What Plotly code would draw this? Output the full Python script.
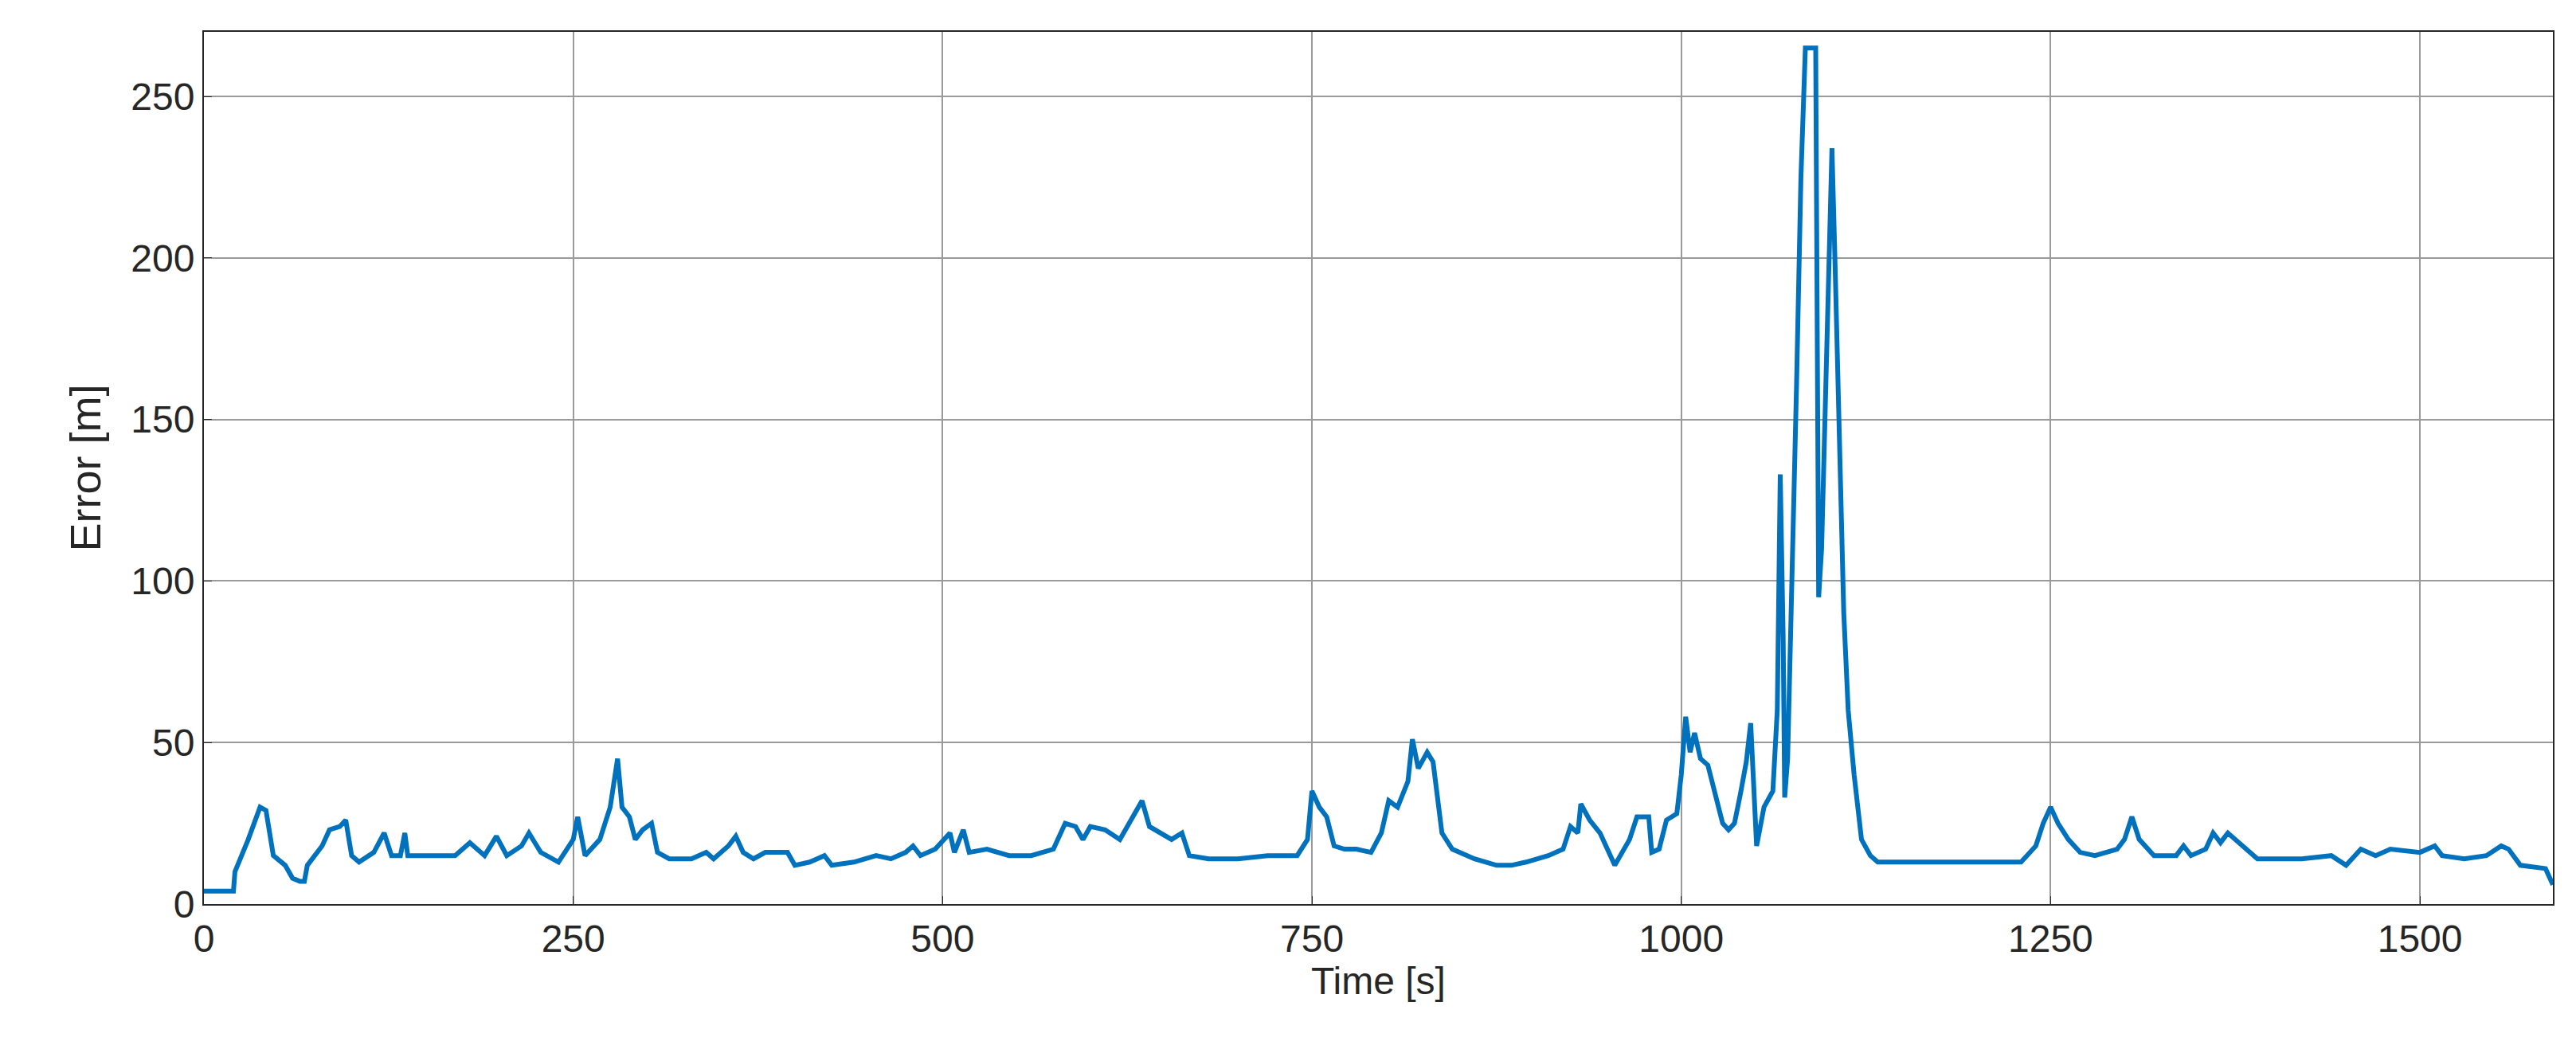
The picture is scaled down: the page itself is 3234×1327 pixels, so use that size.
import plotly.graph_objects as go

# time [s] and error [m]
time_s = [0, 20, 21, 30, 38, 42, 47, 55, 60, 65, 68, 70, 80, 85, 92, 96, 100, 105, 115, 122, 127,
          133, 136, 138, 150, 170, 180, 190, 198, 205, 215, 220, 228, 240, 250, 253, 258, 268, 275,
          280, 283, 288, 292, 297, 303, 307, 315, 330, 340, 345, 355, 360, 365, 372, 380, 395, 400,
          410, 420, 425, 440, 455, 465, 475, 480, 485, 495, 505, 508, 514, 518, 530, 545, 560, 575,
          583, 590, 595, 600, 610, 620, 630, 635, 640, 648, 655, 662, 667, 680, 700, 720, 740, 747,
          750, 755, 760, 765, 772, 780, 790, 797, 802, 808, 815, 818, 822, 828, 832, 838, 845, 860,
          875, 885, 895, 910, 920, 925, 930, 932, 938, 945, 952, 955, 965, 970, 978, 980, 985, 990,
          997, 1000, 1003, 1006, 1009, 1013, 1018, 1023, 1028, 1032, 1036, 1040, 1044, 1047, 1051,
          1056, 1062, 1065, 1067, 1069, 1070, 1072, 1075, 1078, 1081, 1084, 1091, 1092, 1093, 1095,
          1098, 1101, 1102, 1104, 1107, 1110, 1113, 1117, 1122, 1128, 1133, 1145, 1170, 1200, 1230,
          1240, 1245, 1250, 1255, 1262, 1270, 1280, 1295, 1300, 1305, 1310, 1320, 1335, 1340, 1345,
          1355, 1360, 1365, 1370, 1380, 1390, 1420, 1440, 1450, 1460, 1470, 1480, 1500, 1510, 1515,
          1530, 1545, 1555, 1560, 1568, 1585, 1590]
error_m = [4, 4, 10, 20, 30, 29, 15, 12, 8, 7, 7, 12, 18, 23, 24, 26, 15, 13, 16, 22, 15,
           15, 22, 15, 15, 15, 19, 15, 21, 15, 18, 22, 16, 13, 20, 27, 15, 20, 30,
           45, 30, 27, 20, 23, 25, 16, 14, 14, 16, 14, 18, 21, 16, 14, 16, 16, 12,
           13, 15, 12, 13, 15, 14, 16, 18, 15, 17, 22, 16, 23, 16, 17, 15, 15, 17,
           25, 24, 20, 24, 23, 20, 28, 32, 24, 22, 20, 22, 15, 14, 14, 15, 15, 20,
           35, 30, 27, 18, 17, 17, 16, 22, 32, 30, 38, 51, 42, 47, 44, 22, 17, 14,
           12, 12, 13, 15, 17, 24, 22, 31, 26, 22, 15, 12, 20, 27, 27, 16, 17, 26,
           28, 40, 58, 47, 53, 45, 43, 34, 25, 23, 25, 34, 44, 56, 18, 30,
           35, 60, 133, 82, 33, 45, 100, 160, 225, 265, 265, 190, 95, 110,
           160, 220, 234, 200, 150, 90, 60, 40, 20, 15, 13, 13, 13, 13, 13,
           18, 25, 30, 25, 20, 16, 15, 17, 20, 27, 20, 15, 15, 18, 15,
           17, 22, 19, 22, 18, 14, 14, 15, 12, 17, 15, 17, 16, 18, 15,
           14, 15, 18, 17, 12, 11, 6]

fig = go.Figure(go.Scatter(x=time_s, y=error_m, mode="lines",
                           line=dict(color="#0072BD", width=6), showlegend=False))

axis_common = dict(showgrid=True, gridcolor="#9a9a9a", gridwidth=1.5, zeroline=False,
                   showline=True, linecolor="#262626", linewidth=2, mirror=True,
                   ticks="inside", ticklen=10, tickcolor="#262626",
                   tickfont=dict(size=48, color="#262626"))
fig.update_xaxes(range=[0, 1590], tickvals=[0, 250, 500, 750, 1000, 1250, 1500],
                 title=dict(text="Time [s]", font=dict(size=48, color="#262626"), standoff=8),
                 **axis_common)
fig.update_yaxes(range=[0, 270], tickvals=[0, 50, 100, 150, 200, 250],
                 title=dict(text="Error [m]", font=dict(size=54, color="#262626"), standoff=20),
                 **axis_common)
fig.update_layout(width=3234, height=1327, plot_bgcolor="white", paper_bgcolor="white",
                  font=dict(family="Liberation Sans, Arial"),
                  margin=dict(l=248, r=37, t=32, b=200))
fig.write_html("out.html")
